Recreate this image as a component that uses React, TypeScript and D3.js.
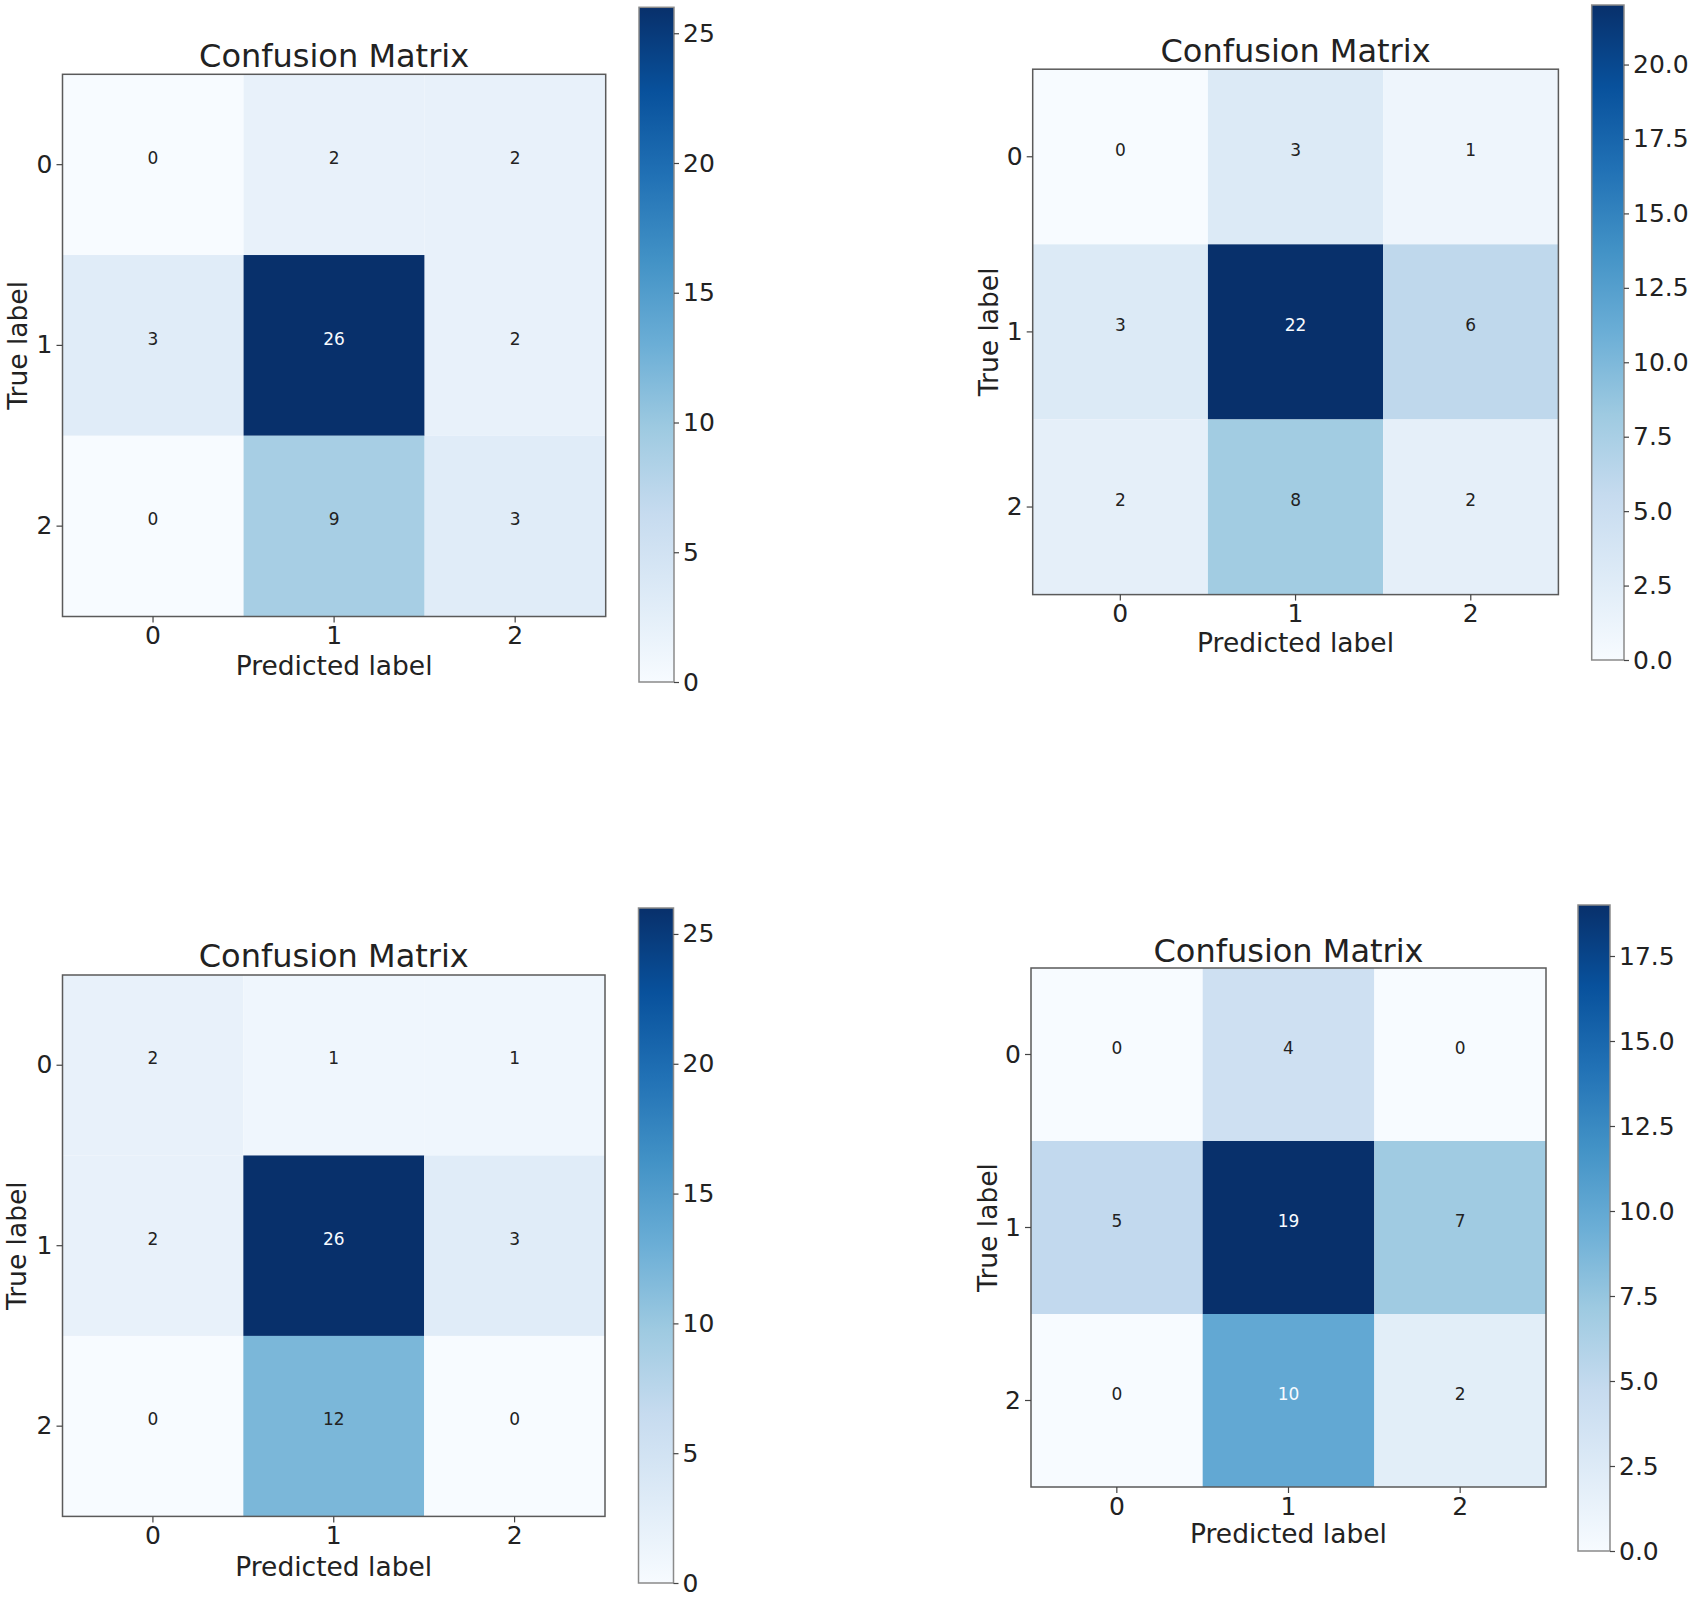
import React, { useEffect, useRef } from "react";
import * as d3 from "d3";

// class labels shared by all four matrices
const classes = ["0", "1", "2"];

// counts, row = true label, column = predicted label
const matrixTopLeft = [
  [0, 2, 2],
  [3, 26, 2],
  [0, 9, 3],
];
const matrixTopRight = [
  [0, 3, 1],
  [3, 22, 6],
  [2, 8, 2],
];
const matrixBottomLeft = [
  [2, 1, 1],
  [2, 26, 3],
  [0, 12, 0],
];
const matrixBottomRight = [
  [0, 4, 0],
  [5, 19, 7],
  [0, 10, 2],
];

// colorbar tick values
const ticksTopLeft = [0, 5, 10, 15, 20, 25];
const ticksTopRight = [0, 2.5, 5, 7.5, 10, 12.5, 15, 17.5, 20];
const ticksBottomLeft = [0, 5, 10, 15, 20, 25];
const ticksBottomRight = [0, 2.5, 5, 7.5, 10, 12.5, 15, 17.5];

// matplotlib "Blues" control colours
const blues = [
  "#f7fbff", "#deebf7", "#c6dbef", "#9ecae1", "#6baed6",
  "#4292c6", "#2171b5", "#08519c", "#08306b",
];

const titleText = "Confusion Matrix";
const xLabelText = "Predicted label";
const yLabelText = "True label";

const FONT = "'DejaVu Sans', sans-serif";
const TEXT = "#222";

interface PanelLayout {
  id: string;
  matrix: number[][];
  ticks: number[];
  tickFormat: string;
  box: [number, number, number, number]; // x0, y0, x1, y1
  bar: [number, number, number, number];
  titleY: number;
  xLabelY: number;
  yLabelX: number;
}

const panels: PanelLayout[] = [
  {
    id: "tl",
    matrix: matrixTopLeft,
    ticks: ticksTopLeft,
    tickFormat: "d",
    box: [62.5, 74.3, 605.7, 616.5],
    bar: [639, 7.3, 674, 682],
    titleY: 67,
    xLabelY: 675,
    yLabelX: 27,
  },
  {
    id: "tr",
    matrix: matrixTopRight,
    ticks: ticksTopRight,
    tickFormat: ".1f",
    box: [1032.7, 69.2, 1558.4, 594.6],
    bar: [1591.7, 5, 1624, 660],
    titleY: 61.6,
    xLabelY: 652,
    yLabelX: 998,
  },
  {
    id: "bl",
    matrix: matrixBottomLeft,
    ticks: ticksBottomLeft,
    tickFormat: "d",
    box: [62.5, 975, 605, 1516.4],
    bar: [638.5, 908, 673.5, 1583],
    titleY: 967,
    xLabelY: 1576,
    yLabelX: 26,
  },
  {
    id: "br",
    matrix: matrixBottomRight,
    ticks: ticksBottomRight,
    tickFormat: ".1f",
    box: [1031, 968, 1546, 1487],
    bar: [1578, 905, 1610, 1551],
    titleY: 961.5,
    xLabelY: 1543,
    yLabelX: 997,
  },
];

const WIDTH = 1691;
const HEIGHT = 1598;

function drawPanel(root: d3.Selection<SVGGElement, unknown, null, undefined>, p: PanelLayout) {
  const [bx0, by0, bx1, by1] = p.box;
  const [cx0, cy0, cx1, cy1] = p.bar;
  const values = p.matrix.flat();
  const vmin = d3.min(values)!;
  const vmax = d3.max(values)!;
  const thresh = (vmin + vmax) / 2;

  const cmap = d3.piecewise(d3.interpolateRgb, blues);
  const color = d3.scaleSequential(cmap).domain([vmin, vmax]);

  const x = d3.scaleBand<string>().domain(classes).range([bx0, bx1]).padding(0);
  const y = d3.scaleBand<string>().domain(classes).range([by0, by1]).padding(0);

  const g = root.append("g").attr("class", `panel-${p.id}`);

  // cells
  const cells = p.matrix.flatMap((row, i) =>
    row.map((v, j) => ({ row: classes[i], col: classes[j], v }))
  );

  g.selectAll("rect.cell")
    .data(cells)
    .enter()
    .append("rect")
    .attr("class", "cell")
    .attr("x", (d) => x(d.col)!)
    .attr("y", (d) => y(d.row)!)
    .attr("width", x.bandwidth())
    .attr("height", y.bandwidth())
    .attr("fill", (d) => color(d.v));

  // numbers sit a little above the cell centre in the source image
  g.selectAll("text.cell-label")
    .data(cells)
    .enter()
    .append("text")
    .attr("class", "cell-label")
    .attr("x", (d) => x(d.col)! + x.bandwidth() / 2)
    .attr("y", (d) => y(d.row)! + y.bandwidth() / 2 - 7)
    .attr("dy", "0.36em")
    .attr("text-anchor", "middle")
    .style("font-family", FONT)
    .style("font-size", "17px")
    .style("fill", (d) => (d.v > thresh ? "#f7fbff" : TEXT))
    .text((d) => d.v);

  // frame
  g.append("rect")
    .attr("x", bx0)
    .attr("y", by0)
    .attr("width", bx1 - bx0)
    .attr("height", by1 - by0)
    .attr("fill", "none")
    .attr("stroke", "#5a5a5a")
    .attr("stroke-width", 1.5);

  const styleAxis = (sel: d3.Selection<SVGGElement, unknown, null, undefined>) => {
    sel.select(".domain").remove();
    sel.selectAll(".tick line").attr("stroke", "#444").attr("stroke-width", 1.2);
    sel
      .selectAll(".tick text")
      .style("font-family", FONT)
      .style("font-size", "25px")
      .style("fill", TEXT);
  };

  g.append("g")
    .attr("transform", `translate(0,${by1})`)
    .call(d3.axisBottom(x).tickSize(6).tickPadding(4))
    .call(styleAxis);

  g.append("g")
    .attr("transform", `translate(${bx0},0)`)
    .call(d3.axisLeft(y).tickSize(6).tickPadding(4))
    .call(styleAxis);

  // title and axis labels
  g.append("text")
    .attr("x", (bx0 + bx1) / 2)
    .attr("y", p.titleY)
    .attr("text-anchor", "middle")
    .style("font-family", FONT)
    .style("font-size", "32px")
    .style("fill", TEXT)
    .text(titleText);

  g.append("text")
    .attr("x", (bx0 + bx1) / 2)
    .attr("y", p.xLabelY)
    .attr("text-anchor", "middle")
    .style("font-family", FONT)
    .style("font-size", "26.5px")
    .style("fill", TEXT)
    .text(xLabelText);

  g.append("text")
    .attr("transform", `translate(${p.yLabelX},${(by0 + by1) / 2}) rotate(-90)`)
    .attr("text-anchor", "middle")
    .style("font-family", FONT)
    .style("font-size", "26.5px")
    .style("fill", TEXT)
    .text(yLabelText);

  // colorbar
  const gradId = `grad-${p.id}`;
  const grad = g
    .append("defs")
    .append("linearGradient")
    .attr("id", gradId)
    .attr("x1", 0)
    .attr("y1", 1)
    .attr("x2", 0)
    .attr("y2", 0);
  grad
    .selectAll("stop")
    .data(blues)
    .enter()
    .append("stop")
    .attr("offset", (_, i) => i / (blues.length - 1))
    .attr("stop-color", (d) => d);

  g.append("rect")
    .attr("x", cx0)
    .attr("y", cy0)
    .attr("width", cx1 - cx0)
    .attr("height", cy1 - cy0)
    .attr("fill", `url(#${gradId})`)
    .attr("stroke", "#8a8a8a")
    .attr("stroke-width", 1.5);

  const cbScale = d3.scaleLinear().domain([vmin, vmax]).range([cy1, cy0]);
  g.append("g")
    .attr("transform", `translate(${cx1},0)`)
    .call(
      d3
        .axisRight(cbScale)
        .tickValues(p.ticks)
        .tickFormat(d3.format(p.tickFormat) as any)
        .tickSize(5)
        .tickPadding(4)
    )
    .call(styleAxis);
}

export default function App() {
  const svgRef = useRef<SVGSVGElement>(null);

  useEffect(() => {
    if (!svgRef.current) return;
    const svg = d3.select(svgRef.current);
    svg.selectAll("*").remove();

    svg
      .append("rect")
      .attr("width", WIDTH)
      .attr("height", HEIGHT)
      .attr("fill", "#ffffff");

    const root = svg.append("g") as d3.Selection<SVGGElement, unknown, null, undefined>;
    panels.forEach((p) => drawPanel(root, p));

    return () => {
      svg.selectAll("*").remove();
    };
  }, []);

  return (
    <svg
      ref={svgRef}
      width={WIDTH}
      height={HEIGHT}
      style={{ position: "absolute", left: 0, top: 0, display: "block" }}
    />
  );
}
